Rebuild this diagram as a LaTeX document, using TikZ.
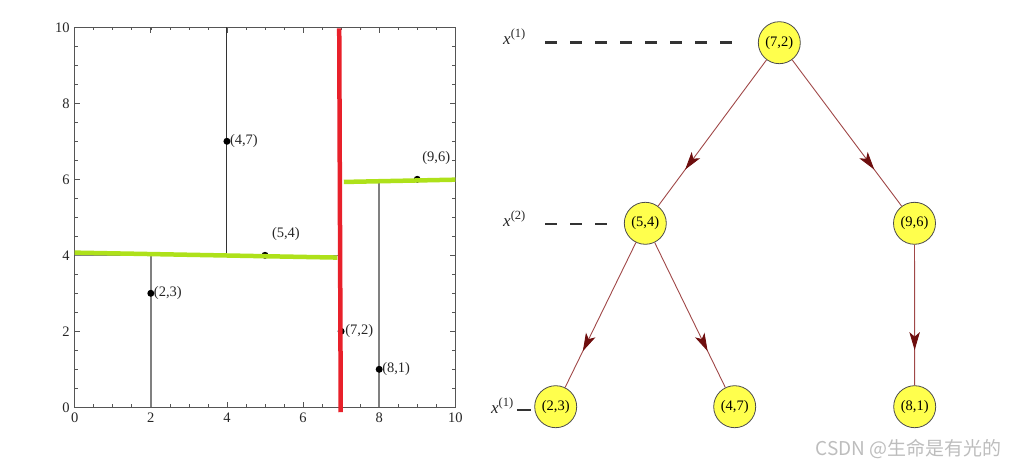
\documentclass[tikz,border=0pt]{standalone}
\usepackage{fontspec}
\setmainfont{Liberation Serif}
\newfontfamily\cjkfont{Noto Sans CJK SC}
\usetikzlibrary{arrows.meta,decorations.markings}
\definecolor{framegray}{HTML}{555555}
\definecolor{splitgray}{HTML}{808080}
\definecolor{limegreen}{HTML}{AEE11A}
\definecolor{cutred}{HTML}{E8202A}
\definecolor{nodeyellow}{HTML}{FFFF4D}
\definecolor{edgered}{HTML}{A04848}
\definecolor{tipred}{HTML}{6E0E0E}
\definecolor{wmgray}{HTML}{BDBDBD}
\newcommand{\levlabel}[1]{\fontsize{17}{19}\selectfont\itshape x\upshape\raisebox{7pt}{\fontsize{12.5}{14}\selectfont(#1)}}
\tikzset{
  lbl/.style={font=\fontsize{14.5}{16}\selectfont, text=black!85, inner sep=1pt},
  frameline/.style={draw=framegray, line width=0.9pt},
  splitline/.style={draw=splitgray, line width=1.5pt},
  greenline/.style={draw=limegreen, line width=4.5pt},
  redline/.style={draw=cutred, line width=4.5pt},
  dot/.style={circle, fill=black, inner sep=0pt, minimum size=7pt},
  treenode/.style={circle, draw=black!70, line width=0.8pt, fill=nodeyellow, minimum size=42pt, inner sep=0pt, font=\fontsize{14.5}{16}\selectfont},
  edge/.style={draw=edgered, line width=0.9pt, postaction={decorate},
    decoration={markings, mark=at position 0.75 with {\arrow[tipred]{Stealth[length=18pt,width=10.5pt,inset=4.5pt]}}}},
  levelline/.style={draw=black!80, line width=2.2pt, dash pattern=on 12pt off 13pt},
}
\begin{document}
\begin{tikzpicture}[x=1pt,y=-1pt]
\useasboundingbox (0,0) rectangle (1010,465);
% ---------- left: partition plot ----------
\begin{scope}[shift={(74.7pt,-407.3pt)}, x=38.06pt, y=38pt]
  \draw[frameline] (0,0) rectangle (10,10);
  \foreach \t in {0.5,1,...,9.5} {
    \draw[framegray, line width=0.6pt] (\t,0) -- ++(0,0.08);
    \draw[framegray, line width=0.6pt] (\t,10) -- ++(0,-0.08);
    \draw[framegray, line width=0.6pt] (0,\t) -- ++(0.08,0);
    \draw[framegray, line width=0.6pt] (10,\t) -- ++(-0.08,0);
  }
  \foreach \t in {2,4,6,8} {
    \draw[framegray, line width=0.8pt] (\t,0) -- ++(0,0.15);
    \draw[framegray, line width=0.8pt] (\t,10) -- ++(0,-0.15);
    \draw[framegray, line width=0.8pt] (0,\t) -- ++(0.15,0);
    \draw[framegray, line width=0.8pt] (10,\t) -- ++(-0.15,0);
  }
  \foreach \t in {0,2,4,6,8,10} {
    \node[lbl, anchor=north] (xt\t) at (\t,-0.12) {\t};
    \node[lbl, anchor=east] (yt\t) at (-0.1,\t) {\t};
  }
  % split lines
  \draw[splitline] (2,0) -- (2,4);
  \draw[draw=black!80, line width=1pt] (4,4) -- (4,10);
  \draw[splitline] (8,0) -- (8,6);
  \draw[splitline] (0,4) -- (7,4);
  % points
  \node[dot] (p47) at (4,7) {};
  \node[dot] (p23) at (2,3) {};
  \node[dot] (p81) at (8,1) {};
  \node[dot] (p54) at (5,4) {};
  \node[dot] (p96) at (9,6) {};
  \node[dot] (p72) at (7,2) {};
  % highlighted splits
  \draw[greenline] (0,4.07) -- (6.9,3.94);
  \draw[greenline] (7.07,5.93) -- (10,5.99);
  \draw[redline] (6.95,9.97) -- (6.99,-0.13);
  % point labels
  \node[lbl, anchor=west] (l47) at (4.05,7) {(4,7)};
  \node[lbl, anchor=west] (l23) at (2.05,3) {(2,3)};
  \node[lbl, anchor=west] (l81) at (8.05,1) {(8,1)};
  \node[lbl, anchor=west] (l72) at (7.08,2) {(7,2)};
  \node[lbl] (l54) at (5.55,4.55) {(5,4)};
  \node[lbl] (l96) at (9.5,6.55) {(9,6)};
\end{scope}
% ---------- right: kd-tree ----------
\node[treenode] (t72) at (779.3,42.7) {(7,2)};
\node[treenode] (t54) at (645.3,223.3) {(5,4)};
\node[treenode] (t96) at (914.5,223.3) {(9,6)};
\node[treenode] (t23) at (555.7,406.7) {(2,3)};
\node[treenode] (t47) at (734.7,406.7) {(4,7)};
\node[treenode] (t81) at (914.7,406.7) {(8,1)};
\draw[edge] (t72) -- (t54);
\draw[edge] (t72) -- (t96);
\draw[edge] (t54) -- (t23);
\draw[edge] (t54) -- (t47);
\draw[edge] (t96) -- (t81);
% level labels
\node[lbl, anchor=base west, inner sep=0pt] (lev1) at (503,45) {\levlabel{1}};
\node[lbl, anchor=base west, inner sep=0pt] (lev2) at (503,227) {\levlabel{2}};
\node[lbl, anchor=base west, inner sep=0pt] (lev3) at (491,413) {\levlabel{1}};
\coordinate (d1s) at (545,42.5);
\coordinate (d1e) at (735,42.5);
\coordinate (d2s) at (545,224);
\coordinate (d2e) at (610,224);
\coordinate (d3s) at (517,410);
\coordinate (d3e) at (531,410);
\draw[levelline] (d1s) -- (d1e);
\draw[levelline] (d2s) -- (d2e);
\draw[draw=black!80, line width=2.2pt] (d3s) -- (d3e);
% watermark
\node[anchor=base east, text=wmgray, inner sep=0pt, font=\cjkfont\fontsize{19}{21}\selectfont] (wm) at (1002,455) {CSDN @生命是有光的};
\end{tikzpicture}
\end{document}
